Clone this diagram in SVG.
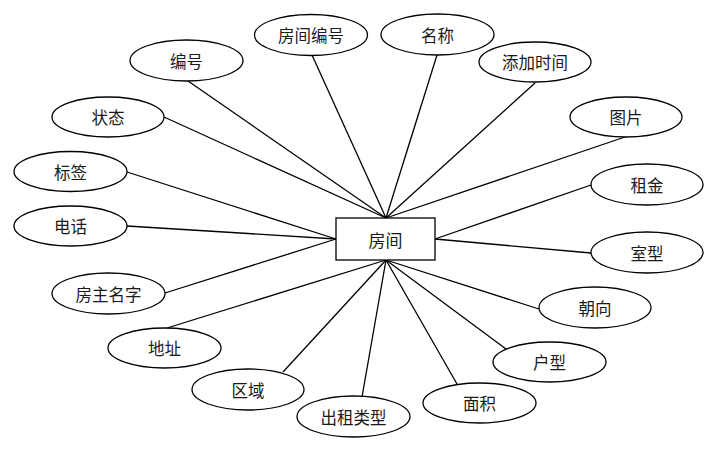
<svg xmlns="http://www.w3.org/2000/svg" width="719" height="453" viewBox="0 0 719 453">
<style>
.e{fill:#fff;stroke:#000;stroke-width:1.3}
.t{font-family:"Noto Sans CJK SC","Noto Sans",sans-serif;font-size:16.5px;fill:#1a1a1a;text-anchor:middle;dominant-baseline:central}
.c line{stroke:#000;stroke-width:1.3}
</style>
<rect width="719" height="453" fill="#fff"/>
<g class="c" id="connectors">
<line x1="312" y1="55" x2="386" y2="218"/>
<line x1="188" y1="81" x2="386" y2="218"/>
<line x1="164" y1="117" x2="386" y2="218"/>
<line x1="437" y1="55" x2="386" y2="218"/>
<line x1="535" y1="83" x2="386" y2="218"/>
<line x1="625" y1="137" x2="386" y2="218"/>
<line x1="127" y1="172" x2="336" y2="239"/>
<line x1="127" y1="226" x2="336" y2="239"/>
<line x1="165" y1="293" x2="336" y2="239"/>
<line x1="591" y1="185" x2="435" y2="239"/>
<line x1="591" y1="253" x2="435" y2="239"/>
<line x1="167" y1="328" x2="386" y2="260"/>
<line x1="283" y1="372" x2="386" y2="260"/>
<line x1="362" y1="397" x2="386" y2="260"/>
<line x1="457" y1="384" x2="386" y2="260"/>
<line x1="506" y1="349" x2="386" y2="260"/>
<line x1="539" y1="309" x2="386" y2="260"/>
</g>
<g id="room"><rect x="336" y="218" width="99" height="42" class="e"/><text class="t" x="385.5" y="239" style="font-size:17px">房间</text></g>
<g id="n1"><ellipse class="e" cx="311" cy="35" rx="56.5" ry="20.5"/><text class="t" x="311" y="35">房间编号</text></g>
<g id="n2"><ellipse class="e" cx="437.5" cy="34.5" rx="56.5" ry="20.5"/><text class="t" x="437.5" y="34.5">名称</text></g>
<g id="n3"><ellipse class="e" cx="535" cy="62" rx="56" ry="20"/><text class="t" x="535" y="62">添加时间</text></g>
<g id="n4"><ellipse class="e" cx="186.5" cy="60.5" rx="56.5" ry="20.5"/><text class="t" x="186.5" y="60.5">编号</text></g>
<g id="n5"><ellipse class="e" cx="108" cy="117" rx="56" ry="20"/><text class="t" x="108" y="117">状态</text></g>
<g id="n6"><ellipse class="e" cx="626" cy="117" rx="56" ry="20"/><text class="t" x="626" y="117">图片</text></g>
<g id="n7"><ellipse class="e" cx="70.5" cy="171.5" rx="56.5" ry="20"/><text class="t" x="70.5" y="171.5">标签</text></g>
<g id="n8"><ellipse class="e" cx="647" cy="184.5" rx="56" ry="20.5"/><text class="t" x="647" y="184.5">租金</text></g>
<g id="n9"><ellipse class="e" cx="70.5" cy="226" rx="56.5" ry="20"/><text class="t" x="70.5" y="226">电话</text></g>
<g id="n10"><ellipse class="e" cx="647" cy="252.5" rx="56" ry="20.5"/><text class="t" x="647" y="252.5">室型</text></g>
<g id="n11"><ellipse class="e" cx="108.5" cy="293.5" rx="56.5" ry="20.5"/><text class="t" x="108.5" y="293.5">房主名字</text></g>
<g id="n12"><ellipse class="e" cx="595" cy="307.5" rx="56" ry="20.5"/><text class="t" x="595" y="307.5">朝向</text></g>
<g id="n13"><ellipse class="e" cx="164.5" cy="348" rx="56.5" ry="20"/><text class="t" x="164.5" y="348">地址</text></g>
<g id="n14"><ellipse class="e" cx="549.5" cy="362" rx="56.5" ry="20"/><text class="t" x="549.5" y="362">户型</text></g>
<g id="n15"><ellipse class="e" cx="248" cy="389.5" rx="56" ry="20.5"/><text class="t" x="248" y="389.5">区域</text></g>
<g id="n16"><ellipse class="e" cx="479.5" cy="403" rx="56.5" ry="20"/><text class="t" x="479.5" y="403">面积</text></g>
<g id="n17"><ellipse class="e" cx="353.5" cy="416.5" rx="56.5" ry="20.5"/><text class="t" x="353.5" y="416.5">出租类型</text></g>
</svg>
